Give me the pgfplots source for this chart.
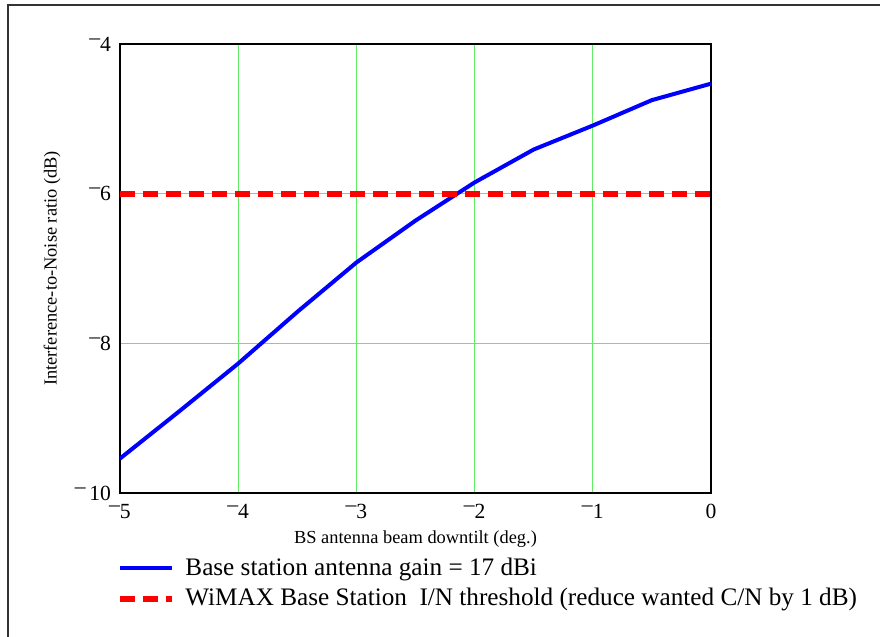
\documentclass[border=0pt]{standalone}
\usepackage{fontspec}
\setmainfont{Liberation Serif}
\usepackage{pgfplots}
\pgfplotsset{compat=1.18}
\definecolor{gridgreen}{RGB}{100,235,100}
\newcommand{\mneg}{\raisebox{0.32em}{\textendash}}
\begin{document}
\begin{tikzpicture}[x=1pt,y=1pt]
\useasboundingbox (0,0) rectangle (440,318.5);
\draw[line width=0.6pt, black!80] (4,0) -- (4,316) -- (440,316);
\begin{axis}[
  at={(60pt,72pt)}, anchor=south west,
  width=295.5pt, height=224.5pt, scale only axis,
  xmin=-5, xmax=0, ymin=-10, ymax=-4,
  xtick={-5,-4,-3,-2,-1,0}, ytick={-10,-8,-6,-4},
  xticklabels={\mneg5,\mneg4,\mneg3,\mneg2,\mneg1,0},
  yticklabels={\mneg\,10,\mneg8,\mneg6,\mneg4},
  major tick length=0pt,
  grid=major, grid style={gridgreen, line width=0.5pt},
  axis line style={line width=1pt},
  tick label style={font=\fontsize{10.8}{12}\selectfont},
  xticklabel style={yshift=-2pt},
  yticklabel style={xshift=-1pt},
  label style={font=\fontsize{9.2}{11}\selectfont},
  xlabel={BS antenna beam downtilt (deg.)},
  ylabel={Interference-to-Noise ratio (dB)},
  xlabel style={at={(axis description cs:0.5,0)}, anchor=center, yshift=-23pt},
  ylabel style={at={(axis description cs:-0.115,0.5)}, anchor=center},
  legend style={at={(axis description cs:-0.005,-0.135)}, anchor=north west, draw=none, fill=none,
    inner sep=0pt, font=\fontsize{12.6}{14}\selectfont, row sep=1pt, cells={anchor=west},
    /tikz/every odd column/.append style={column sep=3pt}},
  legend image code/.code={\draw[#1] (0pt,0pt) -- (26pt,0pt);},
]
\addplot[blue, line width=2pt] coordinates {
(-5,-9.54) (-4.5,-8.91) (-4,-8.27) (-3.5,-7.58) (-3,-6.92) (-2.5,-6.36)
(-2,-5.85) (-1.5,-5.41) (-1,-5.09) (-0.5,-4.75) (0,-4.53)};
\addlegendentry{Base station antenna gain = 17 dBi}
\addplot[red, line width=3pt, dash pattern=on 7.5pt off 4pt] coordinates {(-5,-6) (0,-6)};
\addlegendentry{WiMAX Base Station\ \ I/N threshold (reduce wanted C/N by 1 dB)}
\end{axis}
\end{tikzpicture}
\end{document}
